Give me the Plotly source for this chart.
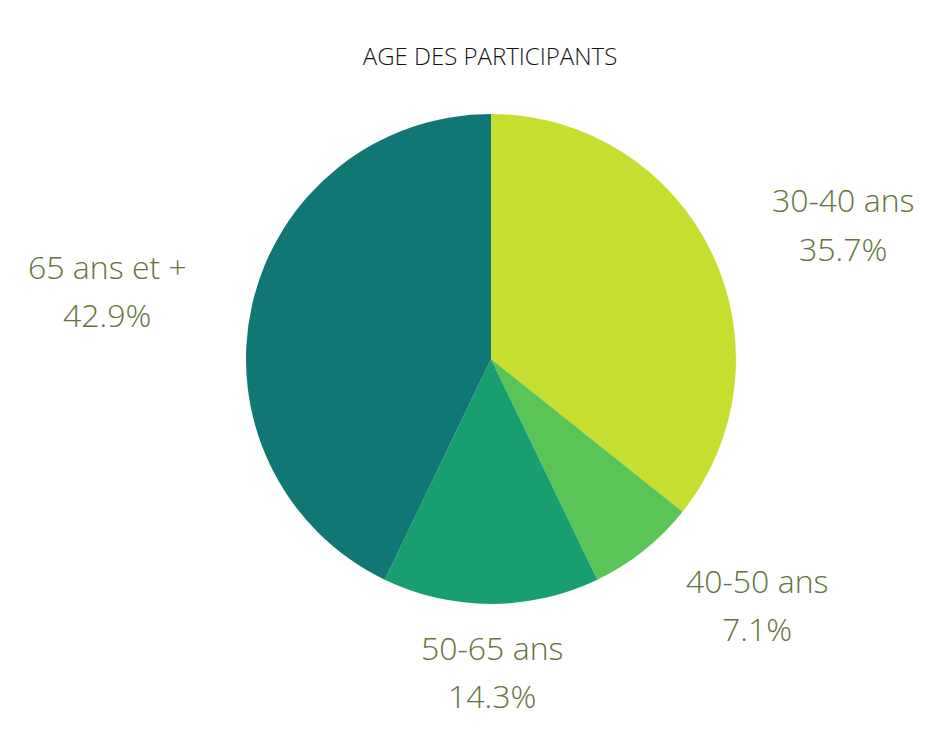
import plotly.graph_objects as go

categories = ["30-40 ans", "40-50 ans", "50-65 ans", "65 ans et +"]
counts = [5, 1, 2, 6]
colors = ["#c5de30", "#5ac457", "#199e72", "#107775"]

# label block centres (pixels in the 952x750 canvas) - layout only
W, H = 952, 750
label_centres = [(843, 224), (757, 604), (492, 671), (107, 290)]
line_gap = 48

total = sum(counts)

fig = go.Figure(go.Pie(
    labels=categories,
    values=counts,
    sort=False,
    direction="clockwise",
    rotation=0,
    marker=dict(colors=colors, line=dict(width=0)),
    textinfo="none",
    hoverinfo="label+percent",
    showlegend=False,
    domain=dict(x=[(491 - 245) / W, (491 + 245) / W], y=[1 - (359 + 245) / H, 1 - (359 - 245) / H]),
))

font = dict(family="Open Sans", size=32, color="#627539", weight=300)
for cat, val, (cx, cy) in zip(categories, counts, label_centres):
    pct = f"{100 * val / total:.1f}%"
    for txt, dy in ((cat, -line_gap / 2), (pct, line_gap / 2)):
        fig.add_annotation(
            x=cx / W, y=1 - (cy + dy) / H, xref="paper", yref="paper",
            text=txt, showarrow=False, xanchor="center", yanchor="middle", font=font,
        )

fig.update_layout(
    width=W, height=H,
    margin=dict(l=0, r=0, t=0, b=0),
    paper_bgcolor="white",
    title=dict(text="AGE DES PARTICIPANTS", x=490 / W, xanchor="center", y=1 - 57 / H, yanchor="middle",
               font=dict(family="Open Sans", size=24, color="#151515", weight=300)),
)

fig.write_html("out.html", config={"displayModeBar": False},
               post_script="document.body.style.margin='0';")
